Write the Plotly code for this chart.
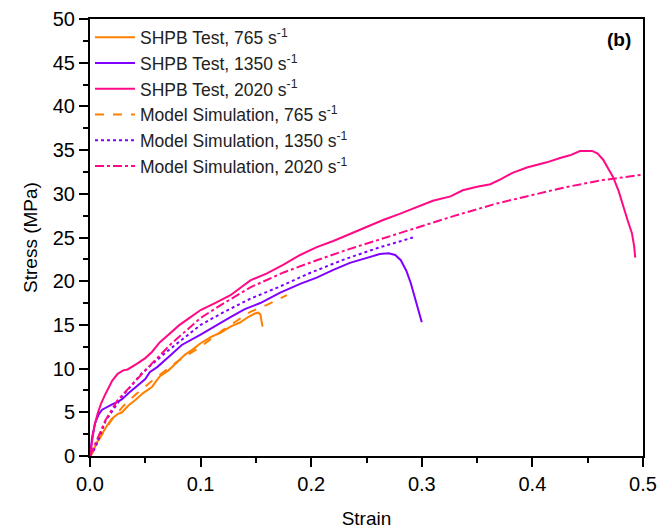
import plotly.graph_objects as go

# SHPB test 765 s-1
t765_x = [0, 0.002, 0.006, 0.011, 0.016, 0.02, 0.025, 0.029, 0.035, 0.041, 0.048, 0.056, 0.063,
          0.071, 0.078, 0.086, 0.093, 0.1, 0.109, 0.118, 0.127, 0.136, 0.143, 0.149, 0.152,
          0.154, 0.155, 0.156]
t765_y = [0, 0.3, 1.5, 2.6, 3.6, 4.3, 4.8, 5.0, 5.8, 6.4, 7.2, 7.9, 9.1, 9.8, 10.6, 11.6, 12.2,
          12.9, 13.6, 14.1, 14.8, 15.3, 15.9, 16.3, 16.4, 16.2, 15.5, 14.8]

# SHPB test 1350 s-1
t1350_x = [0, 0.002, 0.005, 0.008, 0.011, 0.015, 0.02, 0.025, 0.029, 0.035, 0.043, 0.05, 0.054,
           0.061, 0.07, 0.083, 0.1, 0.113, 0.127, 0.14, 0.154, 0.172, 0.19, 0.205, 0.22, 0.235,
           0.25, 0.262, 0.27, 0.276, 0.281, 0.286, 0.29, 0.294, 0.297, 0.3]
t1350_y = [0, 2.2, 3.9, 4.8, 5.3, 5.6, 5.9, 6.2, 6.5, 7.2, 8.1, 8.8, 9.6, 10.2, 11.2, 12.7, 13.9,
           14.9, 15.9, 16.8, 17.5, 18.7, 19.7, 20.4, 21.3, 22.1, 22.7, 23.1, 23.2, 23.0, 22.4,
           21.2, 19.8, 18.0, 16.5, 15.3]

# SHPB test 2020 s-1
t2020_x = [0, 0.002, 0.004, 0.007, 0.01, 0.014, 0.02, 0.025, 0.03, 0.034, 0.038, 0.043, 0.05,
           0.056, 0.063, 0.072, 0.081, 0.09, 0.1, 0.113, 0.127, 0.145, 0.16, 0.175, 0.19, 0.205,
           0.22, 0.235, 0.25, 0.265, 0.28, 0.296, 0.31, 0.326, 0.337, 0.35, 0.362, 0.372, 0.382,
           0.395, 0.413, 0.425, 0.434, 0.443, 0.454, 0.459, 0.464, 0.468, 0.473, 0.478, 0.482,
           0.486, 0.49, 0.492, 0.493]
t2020_y = [0, 1.8, 3.5, 4.9, 6.0, 7.1, 8.6, 9.4, 9.8, 9.9, 10.2, 10.6, 11.2, 11.9, 13.0, 14.0,
           15.0, 15.8, 16.7, 17.5, 18.4, 20.1, 20.9, 21.9, 23.0, 23.9, 24.6, 25.4, 26.2, 27.0,
           27.7, 28.5, 29.2, 29.7, 30.4, 30.8, 31.1, 31.7, 32.4, 33.0, 33.6, 34.1, 34.4, 34.9,
           34.9, 34.6, 33.9, 33.0, 31.9, 30.3, 28.5, 27.0, 25.5, 24.0, 22.7]

# Model simulations
m765_x = [0, 0.005, 0.01, 0.02, 0.03, 0.04, 0.05, 0.06, 0.08, 0.1, 0.12, 0.145, 0.16, 0.178]
m765_y = [0, 1.2, 2.3, 4.2, 5.7, 6.9, 8.0, 9.0, 10.9, 12.5, 14.4, 16.5, 17.3, 18.4]

m1350_x = [0, 0.005, 0.014, 0.029, 0.047, 0.07, 0.1, 0.12, 0.145, 0.17, 0.2, 0.23, 0.26, 0.292]
m1350_y = [0, 1.0, 4.0, 6.8, 9.5, 12.0, 15.0, 16.4, 18.0, 19.3, 21.0, 22.5, 23.8, 25.0]

m2020_x = [0, 0.005, 0.014, 0.025, 0.041, 0.056, 0.074, 0.1, 0.12, 0.145, 0.175, 0.205, 0.235,
           0.265, 0.3, 0.33, 0.368, 0.4, 0.428, 0.46, 0.5]
m2020_y = [0, 1.5, 4.1, 6.4, 8.6, 10.6, 12.9, 15.8, 17.4, 19.3, 21.0, 22.4, 23.7, 24.9, 26.3,
           27.5, 28.9, 29.9, 30.7, 31.5, 32.2]

ORANGE = "#FF8000"
PURPLE = "#8000FF"
PINK = "#FF0A84"
FONT = "Arial, Liberation Sans, sans-serif"

series = [
    ("SHPB Test, 765 s<sup>-1</sup>", t765_x, t765_y, ORANGE, "solid"),
    ("SHPB Test, 1350 s<sup>-1</sup>", t1350_x, t1350_y, PURPLE, "solid"),
    ("SHPB Test, 2020 s<sup>-1</sup>", t2020_x, t2020_y, PINK, "solid"),
    ("Model Simulation, 765 s<sup>-1</sup>", m765_x, m765_y, ORANGE, "dash"),
    ("Model Simulation, 1350 s<sup>-1</sup>", m1350_x, m1350_y, PURPLE, "dot"),
    ("Model Simulation, 2020 s<sup>-1</sup>", m2020_x, m2020_y, PINK, "dashdot"),
]

fig = go.Figure()
for i, (name, xs, ys, col, dash) in enumerate(series):
    fig.add_trace(go.Scatter(x=xs, y=ys, mode="lines", name=name, legendgroup=f"g{i}",
                             line=dict(color=col, width=2, dash=dash)))

axis_common = dict(showgrid=False, zeroline=False, showline=True, linecolor="black",
                   linewidth=2, mirror=True, ticks="outside", tickwidth=2, ticklen=9,
                   tickcolor="black", automargin=False,
                   tickfont=dict(family=FONT, size=20, color="black"))

fig.update_xaxes(range=[0, 0.5], dtick=0.1, tickformat=".1f",
                 minor=dict(dtick=0.05, ticks="outside", ticklen=5, tickwidth=2, tickcolor="black"),
                 title=dict(text="Strain", font=dict(family=FONT, size=19, color="black"), standoff=18),
                 **axis_common)
fig.update_yaxes(range=[0, 50], dtick=5,
                 minor=dict(dtick=2.5, ticks="outside", ticklen=5, tickwidth=2, tickcolor="black"),
                 title=dict(text="Stress (MPa)", font=dict(family=FONT, size=19, color="black"), standoff=10),
                 **axis_common)

fig.add_annotation(text="<b>(b)</b>", xref="paper", yref="paper", x=0.982, y=0.953,
                   xanchor="right", yanchor="middle", showarrow=False,
                   font=dict(family=FONT, size=19, color="black"))

fig.update_layout(
    width=671, height=530,
    margin=dict(l=90, r=28, t=19, b=74),
    plot_bgcolor="white", paper_bgcolor="white",
    font=dict(family=FONT, color="black"),
    legend=dict(x=0.0, y=0.999, xanchor="left", yanchor="top", bgcolor="rgba(0,0,0,0)",
                font=dict(family=FONT, size=17.5, color="#222"), tracegroupgap=0,
                itemwidth=40),
)

fig.write_html("out.html")
